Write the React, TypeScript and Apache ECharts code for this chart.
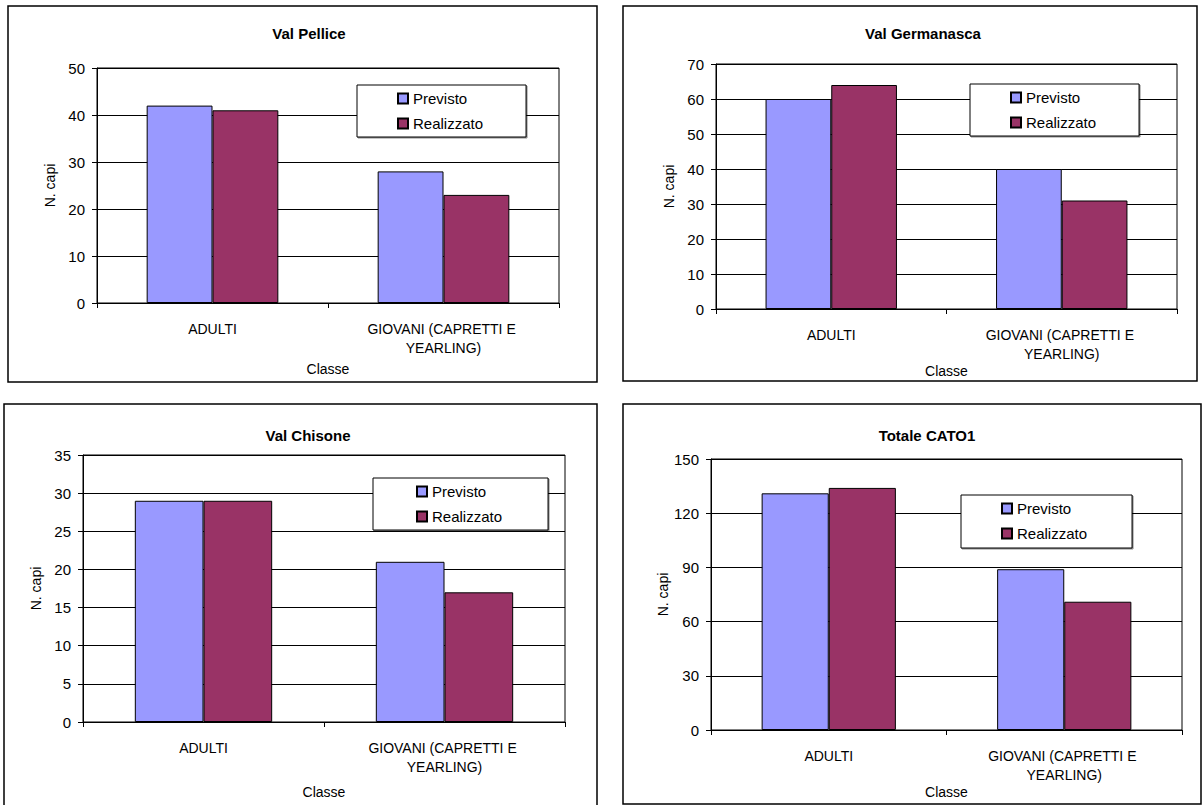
import React, { useEffect, useRef } from "react";
import * as echarts from "echarts";

const categories = ["ADULTI", "GIOVANI (CAPRETTI E YEARLING)"];
const seriesNames = ["Previsto", "Realizzato"];
const panelTitles = ["Val Pellice", "Val Germanasca", "Val Chisone", "Totale CATO1"];
const previsto = [
  [42, 28],
  [60, 40],
  [29, 21],
  [131, 89],
];
const realizzato = [
  [41, 23],
  [64, 31],
  [29, 17],
  [134, 71],
];
const yMax = [50, 70, 35, 150];
const yInterval = [10, 10, 5, 30];
const yAxisName = "N. capi";
const xAxisName = "Classe";

const FONT = "'Liberation Sans', Arial, sans-serif";
const COLORS = ["#9999FF", "#993366"];

// layout per panel
const frames = [
  { x: 8, y: 6, w: 589, h: 376 },
  { x: 623, y: 6, w: 574, h: 375 },
  { x: 4, y: 404, w: 593, h: 404 },
  { x: 623, y: 404, w: 578, h: 400 },
];
const grids = [
  { left: 97, top: 68, width: 462, height: 235 },
  { left: 716, top: 64, width: 461, height: 245 },
  { left: 83, top: 455, width: 482, height: 267 },
  { left: 711, top: 459, width: 471, height: 271 },
];
const titlePos = [
  { x: 304, y: 21 },
  { x: 918, y: 21 },
  { x: 303, y: 423 },
  { x: 922, y: 423 },
];
const legendPos = [
  { left: 357, top: 85, pad: [6, 43, 6, 40] },
  { left: 970, top: 84, pad: [6, 43, 6, 40] },
  { left: 373, top: 478, pad: [6, 46, 6, 43] },
  { left: 961, top: 495, pad: [6, 45, 7, 40] },
];
const xNameGap = [59, 51, 63, 53];

export default function App() {
  const ref = useRef<HTMLDivElement>(null);
  useEffect(() => {
    if (!ref.current) return;
    const chart = echarts.init(ref.current, undefined, { renderer: "svg" });
    const series: any[] = [];
    for (let i = 0; i < 4; i++) {
      [previsto[i], realizzato[i]].forEach((vals, s) => {
        series.push({
          type: "bar",
          name: seriesNames[s],
          xAxisIndex: i,
          yAxisIndex: i,
          data: vals,
          barGap: "0%",
          barCategoryGap: "43%",
          itemStyle: { color: COLORS[s], borderColor: "#000", borderWidth: 1 },
        });
      });
    }
    const option: any = {
      animation: false,
      backgroundColor: "#fff",
      textStyle: { fontFamily: FONT, color: "#000" },
      graphic: frames.map((f) => ({
        type: "rect",
        shape: { x: f.x, y: f.y, width: f.w, height: f.h },
        style: { fill: "none", stroke: "#000", lineWidth: 1.5 },
        z: 0,
      })),
      title: panelTitles.map((t, i) => ({
        text: t,
        left: titlePos[i].x,
        top: titlePos[i].y,
        textAlign: "center",
        textStyle: { fontFamily: FONT, fontSize: 15, fontWeight: "bold", color: "#000" },
      })),
      legend: legendPos.map((l) => ({
        data: seriesNames,
        orient: "vertical",
        left: l.left,
        top: l.top,
        padding: l.pad,
        itemGap: 10,
        itemWidth: 10,
        itemHeight: 10,
        icon: "rect",
        borderColor: "#000",
        borderWidth: 1,
        backgroundColor: "#fff",
        shadowColor: "rgba(0,0,0,0.45)",
        shadowOffsetX: 1,
        shadowOffsetY: 1,
        textStyle: { fontFamily: FONT, fontSize: 15, color: "#000" },
        selectedMode: false,
        z: 10,
      })),
      grid: grids.map((g) => ({
        ...g,
        show: true,
        borderColor: "#000",
        borderWidth: 1,
        backgroundColor: "#fff",
        containLabel: false,
      })),
      xAxis: grids.map((_, i) => ({
        type: "category",
        gridIndex: i,
        data: categories,
        name: xAxisName,
        nameLocation: "middle",
        nameGap: xNameGap[i],
        nameTextStyle: { fontFamily: FONT, fontSize: 14, color: "#000" },
        axisLine: { show: true, lineStyle: { color: "#000", width: 1 } },
        axisTick: { show: true, length: 5, lineStyle: { color: "#000" } },
        axisLabel: {
          interval: 0,
          fontFamily: FONT,
          fontSize: 14,
          color: "#000",
          margin: 16,
          lineHeight: 19,
          width: 170,
          overflow: "break",
        },
        splitLine: { show: false },
      })),
      yAxis: grids.map((_, i) => ({
        type: "value",
        gridIndex: i,
        min: 0,
        max: yMax[i],
        interval: yInterval[i],
        name: yAxisName,
        nameLocation: "middle",
        nameGap: 40,
        nameTextStyle: { fontFamily: FONT, fontSize: 14, color: "#000" },
        axisLine: { show: true, lineStyle: { color: "#000", width: 1 } },
        axisTick: { show: true, length: 5, lineStyle: { color: "#000" } },
        axisLabel: { fontFamily: FONT, fontSize: 15, color: "#000", margin: 12 },
        splitLine: { show: true, lineStyle: { color: "#000", width: 1 } },
      })),
      series,
    };
    chart.setOption(option);
    return () => chart.dispose();
  }, []);
  return (
    <div
      ref={ref}
      style={{ position: "absolute", left: 0, top: 0, width: 1202, height: 805 }}
    />
  );
}
